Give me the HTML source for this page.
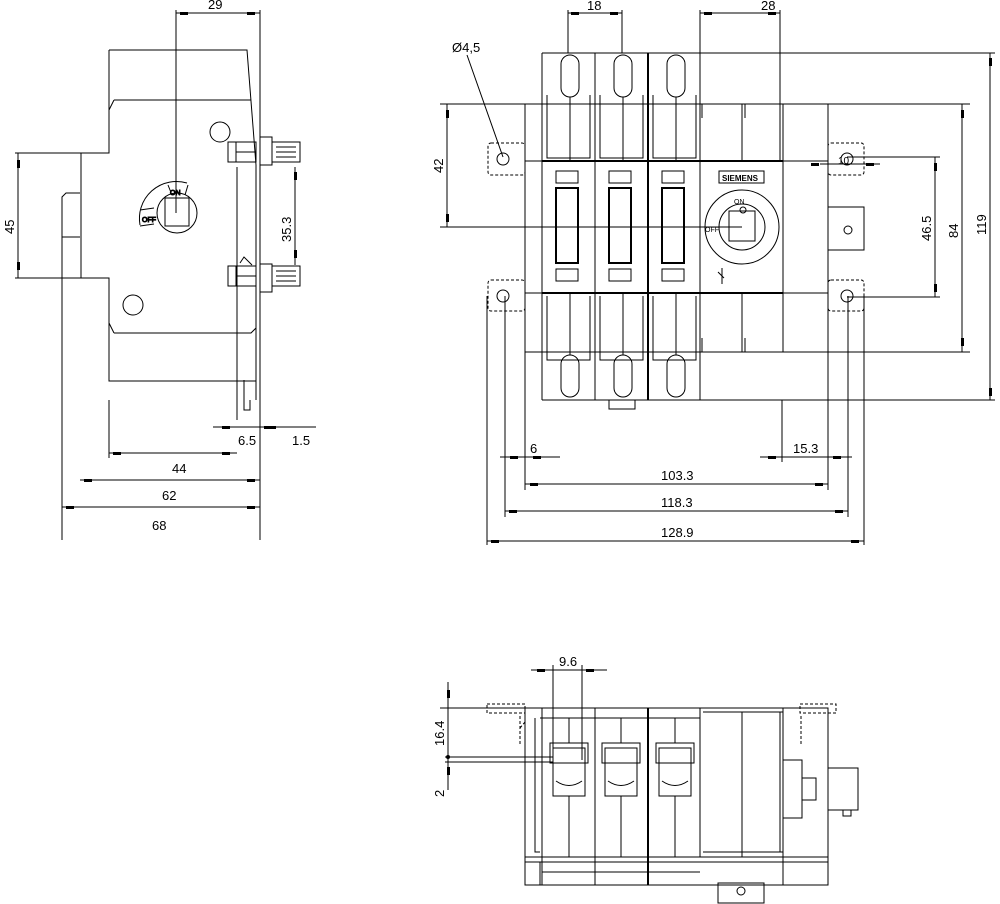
<!DOCTYPE html><html><head><style>body{margin:0;background:#fff}svg{display:block}text{font-family:"Liberation Sans",sans-serif;font-size:13px;fill:#000}</style></head><body>
<svg width="1000" height="904" viewBox="0 0 1000 904" xmlns="http://www.w3.org/2000/svg" stroke="#000" stroke-width="1" fill="none">
<!-- LEFT SIDE VIEW -->
<path d="M109,50 H247 L256,165"/>
<path d="M109,50 V153 H81 V278 H109 V381 H256"/>
<path d="M114,100 H251 M114,100 L109,110 M114,333 H251 L256,328 M114,333 L109,323"/>
<path d="M62,540 V197 L66,193 H80 M62,237 H80"/>
<path d="M237,167 V420 M256,165 V400 M260,10 V540"/>
<path d="M244,380 V410 H250 V400"/>
<rect x="228" y="142" width="28" height="20"/><rect x="260" y="137" width="12" height="28"/><rect x="272" y="142" width="28" height="20"/>
<path d="M276,147 H296 M276,152 H296 M276,157 H296 M236,142 V162 M236,152 H256"/>
<rect x="228" y="266" width="28" height="20"/><rect x="260" y="264" width="12" height="28"/><rect x="272" y="266" width="28" height="20"/>
<path d="M276,271 H296 M276,276 H296 M276,281 H296 M236,266 V286 M236,276 H256 M240,263 L244,257 L252,265"/>
<circle cx="220" cy="132" r="10"/><circle cx="133" cy="305" r="10"/>
<circle cx="177" cy="213" r="20"/><rect x="165" y="198" width="24" height="28"/>
<path d="M140,225 A37,37 0 0 1 187,183 M168,185 L172,195 M188,185 L185,195 M140,210 L154,208 M140,226 L154,224"/>
<text x="170" y="195" style="font-size:7px">ON</text><text x="142" y="222" style="font-size:7px">OFF</text>
<path d="M176,10 V213"/>
<path d="M15,153 H81 M15,278 H81"/>
<path d="M176,13 H260 M18,153 V278 M295,167 V265 M109,400 V458 M109,453 H237 M80,480 H260 M62,507 H260 M213,427 H316"/>
<g fill="#000" stroke="none">
<rect x="180" y="12" width="8" height="3"/><rect x="247" y="12" width="8" height="3"/>
<rect x="17" y="160" width="3" height="8"/><rect x="17" y="262" width="3" height="8"/>
<rect x="294" y="172" width="3" height="8"/><rect x="294" y="250" width="3" height="8"/>
<rect x="113" y="452" width="8" height="3"/><rect x="222" y="452" width="8" height="3"/>
<rect x="84" y="479" width="8" height="3"/><rect x="247" y="479" width="8" height="3"/>
<rect x="66" y="506" width="8" height="3"/><rect x="247" y="506" width="8" height="3"/>
<rect x="222" y="426" width="8" height="3"/><rect x="264" y="426" width="12" height="3"/>
</g>
<g stroke="none"><text x="208" y="9">29</text><text x="172" y="473">44</text><text x="162" y="500">62</text><text x="152" y="530">68</text><text x="238" y="445">6.5</text><text x="292" y="445">1.5</text>
<text transform="translate(14,234) rotate(-90)">45</text><text transform="translate(291,242) rotate(-90)">35.3</text></g>
<!-- FRONT VIEW -->
<path d="M542,53 H995 M525,104 H970 M525,352 H970 M542,400 H995"/>
<path d="M542,53 V400 M595,53 V400 M700,10 V400 M783,104 V352 M828,104 V352 M525,104 V352 M742,104 V161 M742,293 V352 M568,10 V53 M622,10 V53 M780,10 V161"/>
<path d="M648,53 V400" stroke-width="2"/>
<path d="M542,161 H783 M542,293 H783" stroke-width="2"/>
<path d="M525,161 H828 M525,293 H828"/>
<g id="pole">
<rect x="561" y="55" width="18" height="42" rx="9"/><path d="M570,97 V161 M547,95 V158 H590 V95"/>
<rect x="556" y="171" width="22" height="12"/><rect x="556" y="188" width="22" height="75" stroke-width="2"/><rect x="556" y="269" width="22" height="12"/>
<rect x="561" y="355" width="18" height="42" rx="9"/><path d="M570,293 V355 M547,296 V360 H590 V296"/>
</g>
<use href="#pole" x="53"/><use href="#pole" x="106"/>
<rect x="609" y="400" width="26" height="9"/>
<path d="M702,104 V118 M745,104 V118 M702,338 V352 M745,338 V352"/>
<g stroke-dasharray="3,2"><rect x="488" y="143" width="37" height="32" rx="3"/><rect x="488" y="280" width="37" height="31" rx="3"/><rect x="828" y="143" width="36" height="32" rx="3"/><rect x="828" y="280" width="36" height="31" rx="3"/></g>
<circle cx="503" cy="159" r="6"/><circle cx="503" cy="296" r="6"/><circle cx="847" cy="159" r="6"/><circle cx="847" cy="296" r="6"/>
<rect x="828" y="207" width="36" height="43"/><circle cx="848" cy="230" r="4"/>
<circle cx="742" cy="227" r="37"/><circle cx="742" cy="227" r="23"/><rect x="729" y="211" width="26" height="30"/><circle cx="743" cy="210" r="3"/>
<rect x="719" y="171" width="45" height="12"/><text x="722" y="181" stroke="none" style="font-size:8px;font-weight:bold">SIEMENS</text>
<text x="734" y="204" stroke="none" style="font-size:7px">ON</text><text x="705" y="232" stroke="none" style="font-size:7px">OFF</text>
<path d="M722,268 V284 M718,272 L724,278"/>
<path d="M467,55 L503,157 M447,104 V227 M440,227 H742 M440,104 H525 M935,157 V297 M847,157 H940 M847,297 H940 M962,104 V352 M990,53 V400 M820,164 H880"/>
<path d="M487,296 V545 M505,296 V517 M525,352 V490 M864,296 V545 M848,296 V517 M828,352 V490 M782,400 V462"/>
<path d="M500,457 H560 M760,457 H852 M525,484 H828 M505,511 H848 M487,541 H864 M568,13 H622 M700,13 H780"/>
<g fill="#000" stroke="none">
<rect x="571" y="12" width="8" height="3"/><rect x="610" y="12" width="8" height="3"/>
<rect x="704" y="12" width="8" height="3"/><rect x="768" y="12" width="8" height="3"/>
<rect x="446" y="110" width="3" height="8"/><rect x="446" y="214" width="3" height="8"/>
<rect x="934" y="163" width="3" height="8"/><rect x="934" y="284" width="3" height="8"/>
<rect x="961" y="110" width="3" height="8"/><rect x="961" y="338" width="3" height="8"/>
<rect x="989" y="58" width="3" height="8"/><rect x="989" y="388" width="3" height="8"/>
<rect x="510" y="456" width="8" height="3"/><rect x="533" y="456" width="8" height="3"/>
<rect x="768" y="456" width="8" height="3"/><rect x="833" y="456" width="8" height="3"/>
<rect x="530" y="483" width="8" height="3"/><rect x="815" y="483" width="8" height="3"/>
<rect x="509" y="510" width="8" height="3"/><rect x="835" y="510" width="8" height="3"/>
<rect x="491" y="540" width="8" height="3"/><rect x="851" y="540" width="8" height="3"/>
<rect x="811" y="163" width="8" height="3"/><rect x="866" y="163" width="8" height="3"/>
</g>
<g stroke="none"><text x="587" y="10">18</text><text x="761" y="10">28</text><text x="452" y="52">Ø4,5</text><text x="838" y="164" style="font-size:10px">10</text>
<text x="530" y="453">6</text><text x="793" y="453">15.3</text><text x="661" y="480">103.3</text><text x="661" y="507">118.3</text><text x="661" y="537">128.9</text>
<text transform="translate(443,173) rotate(-90)">42</text><text transform="translate(931,241) rotate(-90)">46.5</text><text transform="translate(958,238) rotate(-90)">84</text><text transform="translate(986,235) rotate(-90)">119</text></g>
<!-- BOTTOM VIEW -->
<rect x="525" y="708" width="303" height="177"/>
<path d="M525,857 H828 M525,862 H828 M542,708 V885 M595,708 V885 M700,708 V857 M742,712 V857 M783,708 V885 M540,718 H700 M703,712 H783 M703,852 H783"/>
<path d="M648,708 V885" stroke-width="2"/>
<path d="M535,718 V852 H540 M780,712 V852"/>
<path d="M542,872 H700 M540,862 V885"/>
<g id="hd"><rect x="550" y="743" width="38" height="20"/><rect x="553" y="748" width="32" height="48"/><path d="M556,781 Q569,790 582,781 M569,718 V743 M569,796 V857"/></g>
<use href="#hd" x="52"/><use href="#hd" x="106"/>
<rect x="718" y="883" width="46" height="20"/><circle cx="741" cy="891" r="4"/>
<rect x="783" y="760" width="19" height="58"/><rect x="802" y="778" width="14" height="22"/><rect x="828" y="768" width="30" height="42"/><rect x="843" y="810" width="8" height="6"/>
<g stroke-dasharray="3,2"><rect x="487" y="704" width="38" height="9"/><rect x="800" y="704" width="36" height="9"/><path d="M520,716 V745 M520,728 L525,722 M801,716 V745"/></g>
<path d="M553,665 V760 M582,665 V760 M531,670 H607 M440,708 H525 M445,757 H553 M445,762 H553 M448,682 V790"/>
<g fill="#000" stroke="none"><rect x="537" y="669" width="8" height="3"/><rect x="586" y="669" width="8" height="3"/><rect x="447" y="690" width="3" height="8"/><rect x="447" y="767" width="3" height="8"/><circle cx="448" cy="757" r="2"/></g>
<g stroke="none"><text x="559" y="666">9.6</text><text transform="translate(444,746) rotate(-90)">16.4</text><text transform="translate(444,797) rotate(-90)">2</text></g>
</svg></body></html>
